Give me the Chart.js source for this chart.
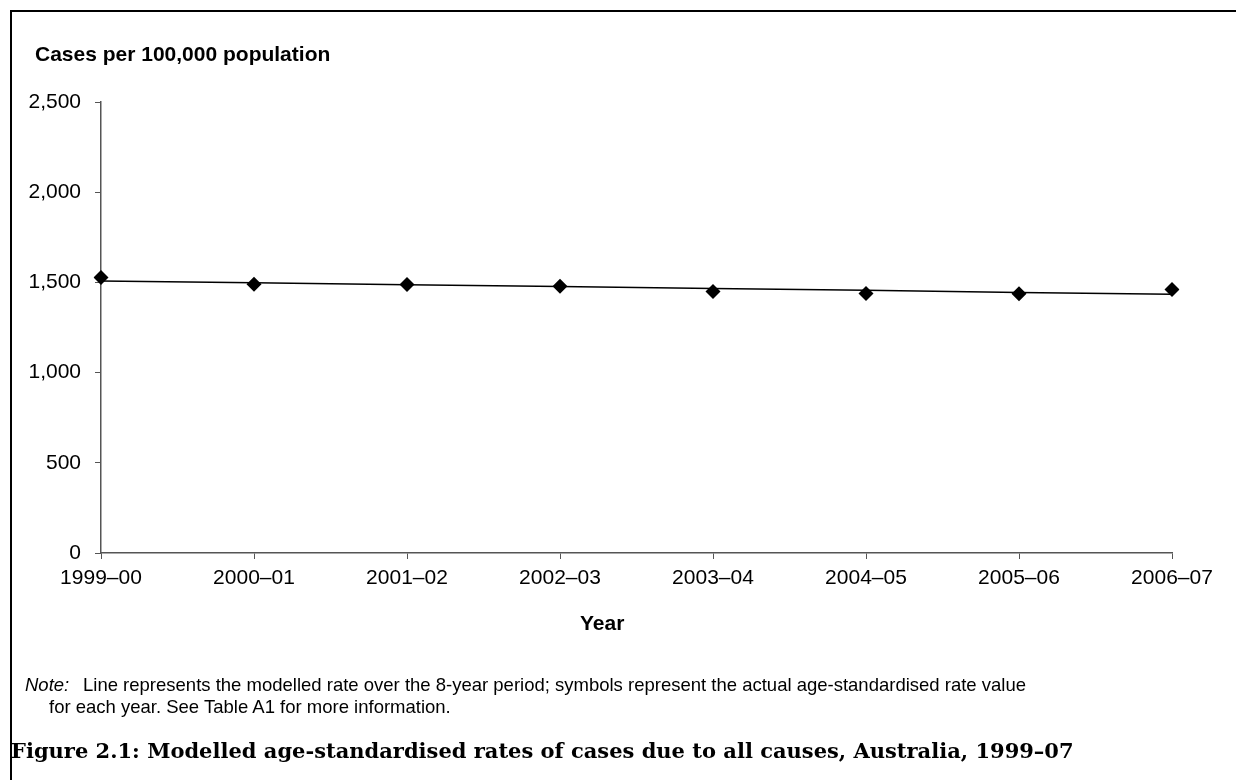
<!DOCTYPE html>
<html>
<head>
<meta charset="utf-8">
<script src="https://cdn.jsdelivr.net/npm/chart.js@4/dist/chart.umd.min.js"></script>
<style>
  html, body { margin: 0; padding: 0; background: #fff; }
  body { width: 1236px; height: 780px; position: relative; overflow: hidden; font-family: "Liberation Sans", Arial, sans-serif; color: #000; }
  #frame { position: absolute; left: 10px; top: 10px; right: -10px; bottom: -10px; border-left: 2px solid #000; border-top: 2px solid #000; }
  #wrap { position: absolute; left: 0; top: 0; width: 1236px; height: 780px; }
  .txt { position: absolute; white-space: nowrap; line-height: 1.1; }
  #ytitle { left: 35px; top: 42px; font-size: 21px; font-weight: bold; }
  #xtitle { left: 580px; top: 611px; font-size: 21px; font-weight: bold; }
  #note1 { left: 25px; top: 675px; font-size: 18.5px; }
  #note1 i { display: inline-block; width: 58px; font-style: italic; }
  #note2 { left: 49px; top: 697px; font-size: 18.5px; }
  #caption { left: 11px; top: 739px; font-size: 21px; font-weight: bold; font-family: "DejaVu Serif", serif; }
</style>
</head>
<body>
<div id="frame"></div>
<div id="wrap"><canvas id="chart"></canvas></div>
<div class="txt" id="ytitle">Cases per 100,000 population</div>
<div class="txt" id="xtitle">Year</div>
<div class="txt" id="note1"><i>Note:</i>Line represents the modelled rate over the 8-year period; symbols represent the actual age-standardised rate value</div>
<div class="txt" id="note2">for each year. See Table A1 for more information.</div>
<div class="txt" id="caption">Figure 2.1: Modelled age-standardised rates of cases due to all causes, Australia, 1999–07</div>
<script>
// chart data
const years = ['1999–00', '2000–01', '2001–02', '2002–03', '2003–04', '2004–05', '2005–06', '2006–07'];
const actualRate = [1527, 1490, 1489, 1479, 1450, 1439, 1437, 1461];
const modelledRate = [1508, 1498, 1487, 1477, 1466, 1456, 1444, 1435];
const yTicks = [0, 500, 1000, 1500, 2000, 2500];

const axisColor = '#555';
const tickFont = { family: 'Liberation Sans', size: 21 };

new Chart(document.getElementById('chart').getContext('2d'), {
  type: 'line',
  data: {
    labels: years,
    datasets: [{
      label: 'Actual rate',
      data: actualRate,
      showLine: false,
      pointStyle: 'rectRot',
      pointRadius: 7.5,
      pointBackgroundColor: '#000',
      pointBorderColor: '#000',
      pointBorderWidth: 0,
      order: 0
    }, {
      label: 'Modelled rate',
      data: modelledRate,
      borderColor: '#000',
      borderWidth: 1.5,
      pointRadius: 0,
      tension: 0,
      order: 1
    }]
  },
  options: {
    responsive: true,
    maintainAspectRatio: false,
    animation: false,
    layout: { padding: { left: 0, right: 64, top: 102, bottom: 187 } },
    plugins: {
      legend: { display: false },
      tooltip: { enabled: false },
      title: { display: false }
    },
    scales: {
      x: {
        offset: false,
        grid: { display: true, drawOnChartArea: false, drawTicks: true, tickLength: 6, color: axisColor },
        border: { display: true, color: axisColor, width: 1.5 },
        ticks: { color: '#000', font: tickFont, padding: 7, maxRotation: 0, autoSkip: false },
        afterFit: function(scale) { scale.height = 40; }
      },
      y: {
        min: 0,
        max: 2500,
        afterBuildTicks: function(scale) { scale.ticks = yTicks.map(v => ({ value: v })); },
        grid: { display: true, drawOnChartArea: false, drawTicks: true, tickLength: 6, color: axisColor },
        border: { display: true, color: axisColor, width: 1.5 },
        ticks: {
          color: '#000', font: tickFont, padding: 14,
          callback: v => v.toLocaleString('en-US')
        },
        afterFit: function(scale) { scale.width = 101; }
      }
    }
  }
});
</script>
</body>
</html>
